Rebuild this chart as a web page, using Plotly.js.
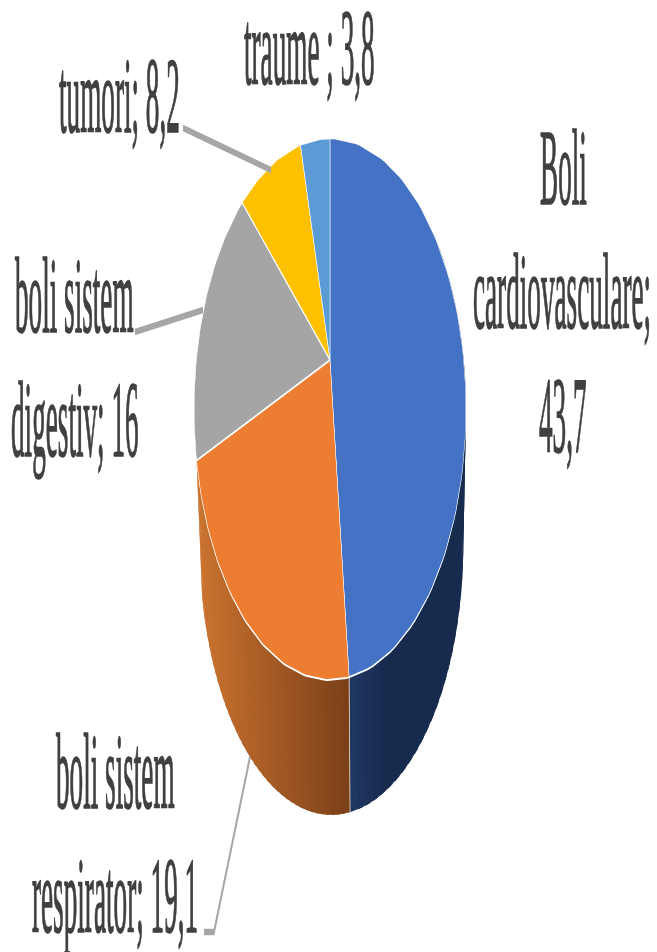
<!DOCTYPE html>
<html>
<head>
<meta charset="utf-8">
<script src="https://cdn.plot.ly/plotly-3.0.1.min.js"></script>
<style>
html,body{margin:0;padding:0;background:#fff;overflow:hidden;width:657px;height:952px}
#wrap{width:657px;height:952px;overflow:hidden;filter:blur(0.7px)}
#chart{width:657px;height:238px;transform:scale(1,4);transform-origin:0 0}
#chart .annotation-text{stroke:#404040;stroke-width:0.4px}
</style>
</head>
<body>
<div id="wrap"><div id="chart"></div></div>
<script>
// Data
const categories = ["Boli cardiovasculare", "boli sistem respirator", "boli sistem digestiv", "tumori", "traume"];
const values = [43.7, 19.1, 16, 8.2, 3.8];
const sliceColors = ["#4472C4", "#ED7D31", "#A5A5A5", "#FFC000", "#5B9BD5"];
const labelLines = ["Boli", "cardiovasculare;", "43,7", "boli sistem", "respirator; 19,1", "boli sistem", "digestiv; 16", "tumori; 8,2", "traume ; 3,8"];
const labelX = [563, 562, 563, 115, 115, 74, 75, 119, 309];
const labelBase = [203, 327, 450, 807, 932, 330, 453, 130, 84];

// Perspective projection of the pie disc, in reference pixels
const APEX = [330, 360], K = 0.181, AY = 262, BX = 133.7;
const DEPTH = 135, WALL_SX = 0.97, WALL_CX = 331.5;
const BASE_YSHIFT = -6.3;
function topPt(t) {
  const X = Math.sin(t), Y = Math.cos(t), w = 1 + K * Y;
  return [APEX[0] + BX * X / w, APEX[1] - AY * Y / w];
}
function wallPt(t) {
  const p = topPt(t);
  return [WALL_CX + (p[0] - APEX[0]) * WALL_SX, p[1] + DEPTH];
}
const total = values.reduce((a, b) => a + b, 0);
const edges = [0];
values.forEach(v => edges.push(edges[edges.length - 1] + v / total * 2 * Math.PI));

function arc(a, b, n, fn) {
  const out = [];
  for (let i = 0; i <= n; i++) out.push(fn(a + (b - a) * i / n));
  return out;
}
function hex(c) { return [1, 3, 5].map(i => parseInt(c.substr(i, 2), 16)); }
function mix(a, b, t) {
  const A = hex(a), B = hex(b);
  return "rgb(" + A.map((v, i) => Math.round(v + (B[i] - v) * t)).join(",") + ")";
}
const traces = [];
function poly(pts, fill, lineColor, lineW) {
  traces.push({
    type: "scatter", mode: "lines", x: pts.map(p => p[0]), y: pts.map(p => p[1]),
    fill: "toself", fillcolor: fill, line: {color: lineColor, width: lineW}, hoverinfo: "skip", showlegend: false
  });
}
function wall(a, b, n, x0, x1, c0, c1) {
  for (let i = 0; i < n; i++) {
    const s = a + (b - a) * i / n, e = a + (b - a) * (i + 1) / n;
    const mx = wallPt((s + e) / 2)[0];
    const t = Math.min(1, Math.max(0, (mx - x0) / (x1 - x0)));
    const col = mix(c0, c1, t);
    // strips overlap the next one slightly so that no seams show
    const e2 = i < n - 1 ? e + (b - a) / n * 0.6 : e;
    const pts = arc(s, e2, 3, topPt).concat(arc(e2, s, 3, wallPt));
    pts.push(pts[0]);
    poly(pts, col, col, 0);
  }
}
// side walls (only the two front slices show)
wall(edges[1], edges[0] + 1.0, 40, 349, 385, "#203864", "#172B4F");
wall(edges[1], edges[2], 40, 349, 200, "#7C4019", "#CC7430");
// seam between the two walls
const seamA = topPt(edges[1]), seamB = wallPt(edges[1]);
traces.push({type: "scatter", mode: "lines", x: [seamA[0], seamB[0]], y: [seamA[1], seamB[1]],
  line: {color: "#E8D8C8", width: 0.8}, hoverinfo: "skip", showlegend: false});
// top slices
values.forEach((v, i) => {
  const pts = [APEX].concat(arc(edges[i], edges[i + 1], 80, topPt));
  pts.push(APEX);
  poly(pts, sliceColors[i], "#FFFFFF", 0.5);
});
// leader lines
const leaders = [
  {x: [183, 271], y: [128, 170]},
  {x: [135, 203], y: [332, 310]},
  {x: [204, 214, 250], y: [932, 932, 757]}
];
leaders.forEach(l => traces.push({type: "scatter", mode: "lines", x: l.x, y: l.y,
  line: {color: "#A6A6A6", width: 1.6}, hoverinfo: "skip", showlegend: false}));

const annotations = labelLines.map((txt, i) => ({
  text: txt, x: labelX[i], y: labelBase[i], xref: "x", yref: "y", yshift: BASE_YSHIFT,
  xanchor: "center", yanchor: "bottom", showarrow: false, borderpad: 0, borderwidth: 0,
  font: {family: "Liberation Serif", size: 27.2, color: "#404040"}
}));

Plotly.newPlot("chart", traces, {
  width: 657, height: 238, margin: {l: 0, r: 0, t: 0, b: 0, pad: 0},
  paper_bgcolor: "#FFFFFF", plot_bgcolor: "#FFFFFF", showlegend: false,
  xaxis: {range: [0, 657], visible: false, fixedrange: true},
  yaxis: {range: [952, 0], visible: false, fixedrange: true},
  annotations: annotations
}, {displayModeBar: false, staticPlot: true});
</script>
</body>
</html>
